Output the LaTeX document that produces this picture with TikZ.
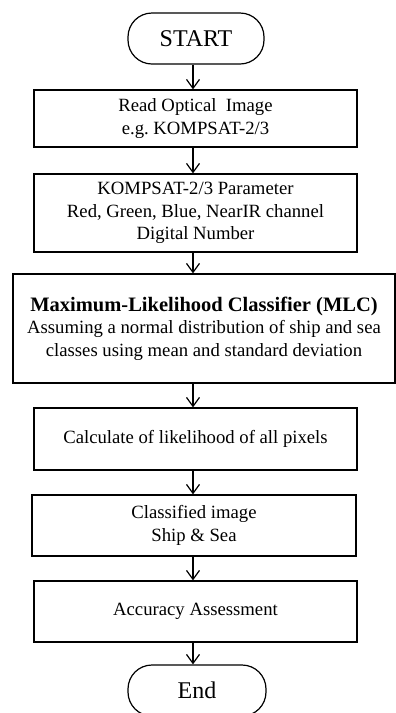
\documentclass[tikz,border=0pt]{standalone}
\usepackage{fontspec}
\setmainfont{Liberation Serif}
\usetikzlibrary{arrows.meta}
\begin{document}
\begin{tikzpicture}[x=1pt, y=1pt, line width=1.2pt,
    box/.style={draw, rectangle, align=center, inner sep=0pt,
      font=\fontsize{18.7}{22.5}\selectfont},
    term/.style={draw, rectangle, rounded corners=24pt, inner sep=0pt,
      font=\fontsize{24}{28}\selectfont},
    flow/.style={-{Straight Barb[length=9pt, width=13pt]}}]
    \useasboundingbox (0, 0) rectangle (396, -713);

    \node[term, minimum width=136, minimum height=51] (start) at (196, -38.5) {START};
    \node[box, minimum width=323, minimum height=57] (read) at (195.5, -118.5)
      {Read Optical\ \ Image\\ e.g.\ KOMPSAT-2/3};
    \node[box, minimum width=323, minimum height=78] (param) at (195.5, -213)
      {KOMPSAT-2/3 Parameter\\ Red, Green, Blue, NearIR channel\\ Digital Number};
    \node[box, minimum width=382, minimum height=109] (mlc) at (204, -328.5)
      {{\fontsize{20.5}{27}\selectfont\bfseries Maximum-Likelihood Classifier (MLC)}\\
       Assuming a normal distribution of ship and sea\\
       classes using mean and standard deviation};
    \node[box, minimum width=323, minimum height=62] (calc) at (195.5, -439)
      {Calculate of likelihood of all pixels};
    \node[box, minimum width=324, minimum height=61] (class) at (194, -525.5)
      {Classified image\\ Ship \& Sea};
    \node[box, minimum width=323, minimum height=61] (acc) at (195.5, -611.5)
      {Accuracy Assessment};
    \node[term, minimum width=138, minimum height=51] (end) at (197, -690.5) {End};

    \coordinate (axis) at (193, 0);
    \draw[flow] (start.south -| axis) -- (read.north -| axis);
    \draw[flow] (read.south -| axis) -- (param.north -| axis);
    \draw[flow] (param.south -| axis) -- (mlc.north -| axis);
    \draw[flow] (mlc.south -| axis) -- (calc.north -| axis);
    \draw[flow] (calc.south -| axis) -- (class.north -| axis);
    \draw[flow] (class.south -| axis) -- (acc.north -| axis);
    \draw[flow] (acc.south -| axis) -- (end.north -| axis);
  \end{tikzpicture}
\end{document}
